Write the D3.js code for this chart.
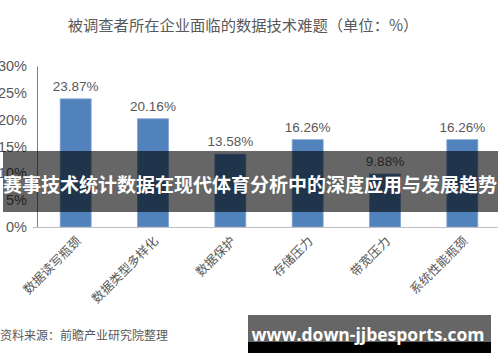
<!DOCTYPE html>
<html><head><meta charset="utf-8">
<script src="https://cdn.jsdelivr.net/npm/d3@7"></script>
<style>
html,body{margin:0;padding:0;background:#fff;}
svg{display:block;}
</style></head>
<body>
<svg id="chart" width="500" height="362"></svg>
<script>
const categories = ["数据读写瓶颈","数据类型多样化","数据保护","存储压力","带宽压力","系统性能瓶颈"];
const values = [23.87, 20.16, 13.58, 16.26, 9.88, 16.26];
const yTicks = [0, 5, 10, 15, 20, 25, 30];
const title = "被调查者所在企业面临的数据技术难题（单位：%）";
const source = "资料来源：前瞻产业研究院整理";
const overlayTitle = "赛事技术统计数据在现代体育分析中的深度应用与发展趋势";
const watermark = "www.down-jjbesports.com";

const svg = d3.select("#chart");
const cjk = "'Noto Sans CJK SC','Noto Sans',sans-serif";
const lat = "'Liberation Sans',Arial,sans-serif";
const grey = "#595959";

const x = d3.scaleBand().domain(categories).range([37, 501]).paddingInner(0.6).paddingOuter(0.3);
const y = d3.scaleLinear().domain([0, 30]).range([227, 66]);

// title
svg.append("text").attr("x", 243).attr("y", 31).attr("text-anchor", "middle")
  .attr("font-family", cjk).attr("font-size", 15.3).attr("fill", grey).text(title);

// y axis
const yAxis = svg.append("g").attr("transform", "translate(37,0)")
  .call(d3.axisLeft(y).tickValues(yTicks).tickFormat(d => d + "%").tickSize(0).tickPadding(10));
yAxis.select(".domain").attr("stroke", "#7f7f7f");
yAxis.selectAll("text").attr("font-family", lat).attr("font-size", 14.5).attr("fill", grey);

// bars
svg.append("g").selectAll("rect").data(values).join("rect")
  .attr("x", (d, i) => x(categories[i]))
  .attr("y", d => y(d))
  .attr("width", x.bandwidth())
  .attr("height", d => y(0) - y(d))
  .attr("fill", "#5282bc").attr("stroke", "#7aa2d4").attr("stroke-width", 0.8);

// value labels
svg.append("g").selectAll("text").data(values).join("text")
  .attr("x", (d, i) => x(categories[i]) + x.bandwidth() / 2)
  .attr("y", d => y(d) - 8)
  .attr("text-anchor", "middle")
  .attr("font-family", lat).attr("font-size", 13.5).attr("fill", grey)
  .text(d => d.toFixed(2) + "%");

// x axis
const xAxis = svg.append("g").attr("transform", "translate(0,227)")
  .call(d3.axisBottom(x).tickSize(0).tickPadding(0));
xAxis.select(".domain").attr("d", "M33,0.5H498").attr("stroke", "#bfbfbf");
xAxis.selectAll(".tick text")
  .attr("font-family", cjk).attr("font-size", 12.5).attr("fill", grey)
  .attr("text-anchor", "end").attr("dy", 0)
  .attr("transform", "translate(6,15) rotate(-45)");

// source
svg.append("text").attr("x", 0).attr("y", 340)
  .attr("font-family", cjk).attr("font-size", 12).attr("fill", grey).text(source);

// overlay band
svg.append("rect").attr("x", 3).attr("y", 151).attr("width", 495).attr("height", 61)
  .attr("fill", "rgba(0,0,0,0.6)");
svg.append("text").attr("x", 250).attr("y", 183).attr("text-anchor", "middle")
  .attr("dominant-baseline", "central")
  .attr("font-family", cjk).attr("font-weight", "bold").attr("font-size", 19)
  .attr("fill", "#fff").text(overlayTitle);

// watermark
svg.append("rect").attr("x", 248).attr("y", 315).attr("width", 243).attr("height", 27).attr("fill", "#666");
svg.append("rect").attr("x", 248).attr("y", 342).attr("width", 243).attr("height", 11).attr("fill", "#000");
svg.append("text").attr("x", 368).attr("y", 341).attr("text-anchor", "middle")
  .attr("font-family", "'Open Sans',sans-serif").attr("font-weight", "bold").attr("font-size", 17.5)
  .attr("fill", "#fff").text(watermark);
</script>
</body></html>
